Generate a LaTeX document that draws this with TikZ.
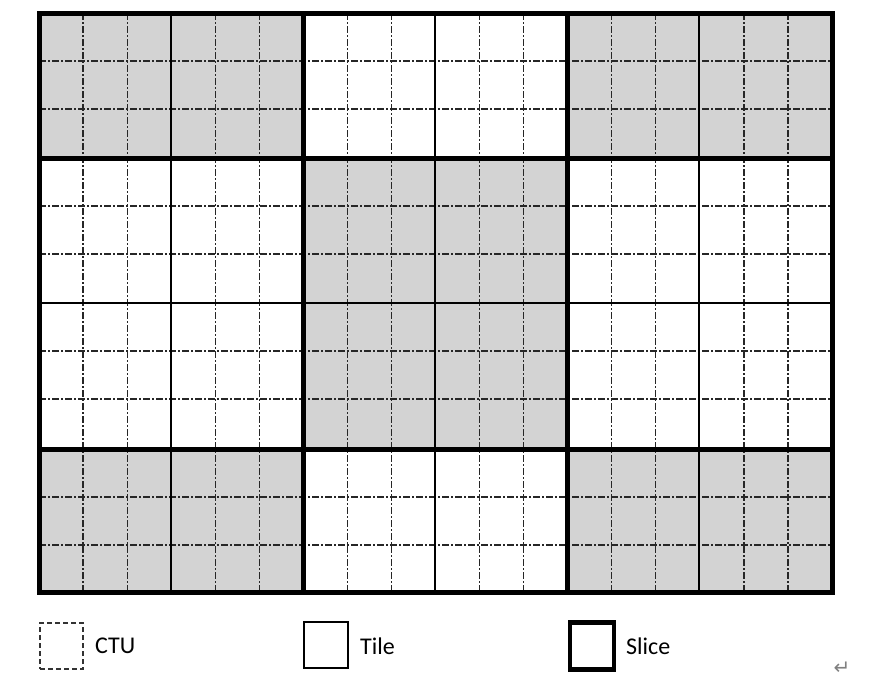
\documentclass[tikz,border=0pt]{standalone}
\usepackage{fontspec}
\setmainfont{Carlito}
\newfontfamily\symfont{DejaVu Sans}
\definecolor{cellgray}{HTML}{D3D3D3}
\begin{document}
\begin{tikzpicture}[x=1pt,y=-1pt,
  ctuline/.style={line width=1.2pt,black!85,dash pattern=on 7pt off 2pt on 2pt off 2pt},
  tileline/.style={line width=2.6pt,black},
  sliceline/.style={line width=5pt,black},
  legtext/.style={font=\fontsize{24}{26}\selectfont,anchor=west,inner sep=0pt}]
\useasboundingbox (0,0) rectangle (888,697);
% gray fills
\fill[cellgray] (39,13) rectangle (303,158);
\fill[cellgray] (567,13) rectangle (832,158);
\fill[cellgray] (303,158) rectangle (567,449);
\fill[cellgray] (39,449) rectangle (303,592);
\fill[cellgray] (567,449) rectangle (832,592);
% CTU lines
\foreach \i in {0,...,5}{
  \foreach \k in {1,2}{
    \draw[ctuline] ({39+\i*132.17+\k*44.06},13) -- ({39+\i*132.17+\k*44.06},592);
  }
}
\foreach \y in {61,109,206,254,351,399,497,545}{
  \draw[ctuline] (39,\y) -- (832,\y);
}
% tile lines
\foreach \x in {171,435,699}{\draw[tileline] (\x,13) -- (\x,592);}
\draw[tileline] (39,303) -- (832,303);
% slice lines
\draw[sliceline] (303,13) -- (303,592);
\draw[sliceline] (567,13) -- (567,592);
\draw[sliceline] (39,158) -- (832,158);
\draw[sliceline] (39,449) -- (832,449);
\draw[sliceline] (39,13) rectangle (832,592);
% legend
\node[draw,line width=1.1pt,black!80,dash pattern=on 5pt off 3pt,minimum width=43pt,minimum height=46pt,inner sep=0pt] (ctubox) at (61.5,646) {};
\node[legtext] (ctutext) at (95,646) {CTU};
\node[draw,line width=2.2pt,minimum width=44pt,minimum height=46pt,inner sep=0pt] (tilebox) at (326,645) {};
\node[legtext] (tiletext) at (360,646) {Tile};
\node[draw,line width=4.8pt,minimum width=44pt,minimum height=47pt,inner sep=0pt] (slicebox) at (592,646) {};
\node[legtext] (slicetext) at (626,646) {Slice};
\node[font=\symfont\fontsize{20}{22}\selectfont,text=black!50,inner sep=0pt] (ret) at (842,668) {↵};
\end{tikzpicture}
\end{document}
